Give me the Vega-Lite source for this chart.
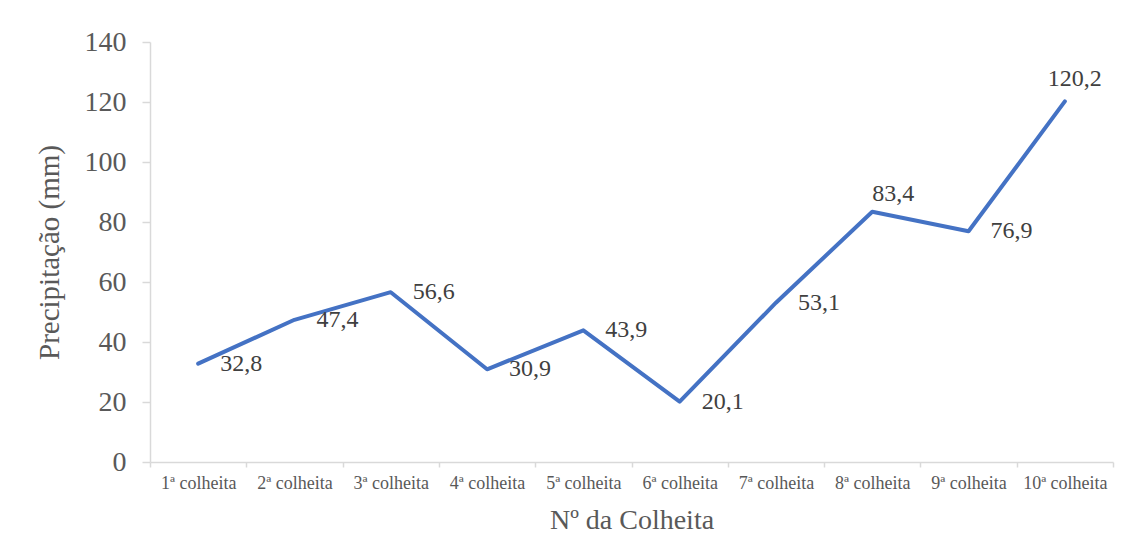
{
  "$schema": "https://vega.github.io/schema/vega-lite/v6.json",
  "width": 963,
  "height": 420,
  "autosize": "none",
  "padding": {"left": 150, "top": 42, "right": 17, "bottom": 96},
  "background": "white",
  "config": {
    "view": {"stroke": null},
    "font": "Liberation Serif, serif",
    "text": {"font": "Liberation Serif, serif"},
    "axis": {"labelFont": "Liberation Serif, serif", "titleFont": "Liberation Serif, serif"},
    "locale": {"number": {"decimal": ",", "thousands": ".", "grouping": [3], "currency": ["R$", ""]}}
  },
  "data": {
    "values": [
      {"colheita": "1ª colheita", "precipitacao": 32.8},
      {"colheita": "2ª colheita", "precipitacao": 47.4},
      {"colheita": "3ª colheita", "precipitacao": 56.6},
      {"colheita": "4ª colheita", "precipitacao": 30.9},
      {"colheita": "5ª colheita", "precipitacao": 43.9},
      {"colheita": "6ª colheita", "precipitacao": 20.1},
      {"colheita": "7ª colheita", "precipitacao": 53.1},
      {"colheita": "8ª colheita", "precipitacao": 83.4},
      {"colheita": "9ª colheita", "precipitacao": 76.9},
      {"colheita": "10ª colheita", "precipitacao": 120.2}
    ]
  },
  "encoding": {
    "x": {
      "field": "colheita",
      "type": "nominal",
      "sort": null,
      "scale": {"type": "band", "paddingInner": 0, "paddingOuter": 0},
      "axis": {
        "title": "Nº da Colheita",
        "titleFontSize": 28,
        "titleFontWeight": "normal",
        "titleColor": "#595959",
        "titlePadding": 14,
        "labelFontSize": 18,
        "labelColor": "#595959",
        "labelAngle": 0,
        "labelPadding": 7,
        "tickBand": "extent",
        "tickSize": 5,
        "tickColor": "#D9D9D9",
        "tickWidth": 1.5,
        "domainColor": "#D9D9D9",
        "domainWidth": 1.5,
        "grid": false
      }
    },
    "y": {
      "field": "precipitacao",
      "type": "quantitative",
      "scale": {"domain": [0, 140], "nice": false},
      "axis": {
        "title": "Precipitação (mm)",
        "titleFontSize": 29,
        "titleFontWeight": "normal",
        "titleColor": "#595959",
        "titlePadding": 20,
        "values": [0, 20, 40, 60, 80, 100, 120, 140],
        "format": "d",
        "labelFontSize": 28,
        "labelColor": "#595959",
        "labelPadding": 16,
        "tickSize": 8,
        "tickColor": "#D9D9D9",
        "tickWidth": 1.5,
        "domainColor": "#D9D9D9",
        "domainWidth": 1.5,
        "grid": false
      }
    }
  },
  "layer": [
    {
      "mark": {"type": "line", "color": "#4472C4", "strokeWidth": 4, "strokeJoin": "round", "strokeCap": "round"}
    },
    {
      "transform": [{"filter": "datum.colheita !== '8ª colheita' && datum.colheita !== '10ª colheita'"}],
      "mark": {"type": "text", "align": "left", "baseline": "middle", "dx": 22, "fontSize": 24, "color": "#404040"},
      "encoding": {"text": {"field": "precipitacao", "type": "quantitative", "format": ".1f"}}
    },
    {
      "transform": [{"filter": "datum.colheita === '8ª colheita'"}],
      "mark": {"type": "text", "align": "left", "baseline": "middle", "dx": 0, "dy": -18, "fontSize": 24, "color": "#404040"},
      "encoding": {"text": {"field": "precipitacao", "type": "quantitative", "format": ".1f"}}
    },
    {
      "transform": [{"filter": "datum.colheita === '10ª colheita'"}],
      "mark": {"type": "text", "align": "center", "baseline": "middle", "dx": 10, "dy": -22, "fontSize": 24, "color": "#404040"},
      "encoding": {"text": {"field": "precipitacao", "type": "quantitative", "format": ".1f"}}
    }
  ]
}
